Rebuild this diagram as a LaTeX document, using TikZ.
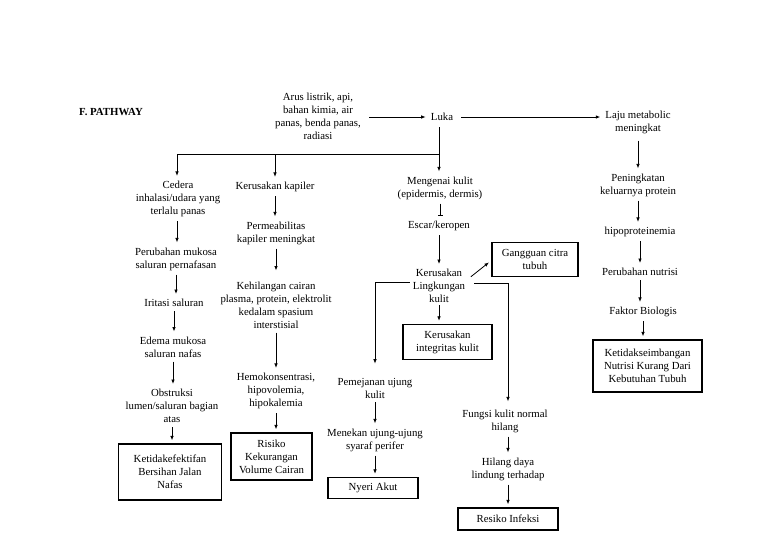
\documentclass[tikz,border=0pt]{standalone}
\usepackage{fontspec}
\setmainfont{Liberation Serif}
\usetikzlibrary{arrows.meta,calc}
\begin{document}
\begin{tikzpicture}[x=1pt,y=-1pt,
  txt/.style={font=\fontsize{10.8}{13}\selectfont, align=center, inner sep=2pt},
  bx/.style={txt, draw, line width=1.4pt, inner sep=0pt},
  ln/.style={line width=0.8pt},
  arr/.style={ln, -{Latex[length=4.5pt,width=3.6pt]}, shorten <=2pt, shorten >=3pt},
  tbar/.style={ln, -{Bar[width=5pt]}, shorten <=2pt, shorten >=3pt}
]
\useasboundingbox (0,0) rectangle (768,544);
\fill[white] (0,0) rectangle (768,544);

% title
\node[txt, font=\fontsize{10.8}{13}\selectfont\bfseries] (title) at (111,112) {F. PATHWAY};

% top row
\node[txt] (arus) at (318,116) {Arus listrik, api,\\bahan kimia, air\\panas, benda panas,\\radiasi};
\node[txt] (luka) at (442,117) {Luka};
\node[txt] (laju) at (638,122) {Laju metabolic\\meningkat};

% right column
\node[txt] (pening) at (638,185) {Peningkatan\\keluarnya protein};
\node[txt] (hipo) at (640,232) {hipoproteinemia};
\node[txt] (perubn) at (640,272) {Perubahan nutrisi};
\node[txt] (faktor) at (643,312) {Faktor Biologis};
\node[bx, minimum width=109pt, minimum height=52pt] (b7) at (647.5,366) {Ketidakseimbangan\\Nutrisi Kurang Dari\\Kebutuhan Tubuh};

% left column
\node[txt] (cedera) at (178,199) {Cedera\\inhalasi/udara yang\\terlalu panas};
\node[txt] (perub) at (176,259) {Perubahan mukosa\\saluran pernafasan};
\node[txt] (iritasi) at (174,303) {Iritasi saluran};
\node[txt] (edema) at (173,347) {Edema mukosa\\saluran nafas};
\node[txt] (obstr) at (172,406) {Obstruksi\\lumen/saluran bagian\\atas};
\node[bx, minimum width=103pt, minimum height=56pt] (b1) at (170,472) {Ketidakefektifan\\Bersihan Jalan\\Nafas};

% second column
\node[txt] (kap) at (275,187) {Kerusakan kapiler};
\node[txt] (perm) at (276,233) {Permeabilitas\\kapiler meningkat};
\node[txt] (kehil) at (276,305) {Kehilangan cairan\\plasma, protein, elektrolit\\kedalam spasium\\interstisial};
\node[txt] (hemo) at (276,391) {Hemokonsentrasi,\\hipovolemia,\\hipokalemia};
\node[bx, minimum width=81pt, minimum height=47pt] (b2) at (271.5,456.5) {Risiko\\Kekurangan\\Volume Cairan};

% third column
\node[txt] (meng) at (440,188) {Mengenai kulit\\(epidermis, dermis)};
\node[txt] (escar) at (439,226) {Escar/keropen};
\node[txt] (kerus) at (439,286) {Kerusakan\\Lingkungan\\kulit};
\node[bx, minimum width=89pt, minimum height=35pt] (b4) at (447.5,342) {Kerusakan\\integritas kulit};
\node[bx, minimum width=86pt, minimum height=34pt] (b5) at (535,259.5) {Gangguan citra\\tubuh};

\node[txt] (pemej) at (375,388) {Pemejanan ujung\\kulit};
\node[txt] (menek) at (375,440) {Menekan ujung-ujung\\syaraf perifer};
\node[bx, minimum width=90pt, minimum height=21pt] (b3) at (373,488) {Nyeri Akut};

\node[txt] (fungsi) at (505,421) {Fungsi kulit normal\\hilang};
\node[txt] (hilang) at (508,469) {Hilang daya\\lindung terhadap};
\node[bx, minimum width=100pt, minimum height=22pt] (b6) at (508,519) {Resiko Infeksi};

% junction coordinates
\coordinate (j) at (439,154);
\coordinate (jl) at (177,154);
\coordinate (jm) at (275,154);

% connectors
\draw[arr, shorten <=6pt] (arus.east |- luka) -- (luka);
\draw[arr, shorten <=6pt] (luka) -- (laju.west |- luka);
\draw[ln, shorten <=4pt] (luka.south -| j) -- (j) -- (jl);
\draw[arr, shorten <=0pt] (j) -- (meng.north -| j);
\draw[arr, shorten <=0pt] (jl) -- (jl |- cedera.north);
\draw[arr, shorten <=0pt] (jm) -- (jm |- kap.north);

% left column
\draw[arr] (cedera.south -| jl) -- (jl |- perub.north);
\draw[arr] (perub.south) -- (perub.south |- iritasi.north);
\draw[arr] (iritasi.south) -- (iritasi.south |- edema.north);
\draw[arr] (edema.south) -- (edema.south |- obstr.north);
\draw[arr] (obstr.south) -- (obstr.south |- b1.north);

% second column
\draw[arr] (kap.south) -- (kap.south |- perm.north);
\draw[arr, shorten >=9pt] (perm.south) -- (perm.south |- kehil.north);
\draw[arr] (kehil.south) -- (kehil.south |- hemo.north);
\draw[arr] (hemo.south) -- (hemo.south |- b2.north);

% third column
\draw[tbar] (meng.south) -- (meng.south |- escar.north);
\draw[arr] (escar.south) -- (escar.south |- kerus.north);
\draw[arr, shorten <=0pt] (kerus.south) -- (kerus.south |- b4.north);
\draw[arr] ([xshift=2pt,yshift=-11pt]kerus.north east) -- ([yshift=-1pt]b5.west);
\draw[arr, shorten <=1pt, shorten >=12pt] ([yshift=4pt]kerus.west) -| (pemej.north);
\draw[arr, shorten <=7pt, shorten >=6pt] ([yshift=3pt]kerus.east) -| ([xshift=3pt]fungsi.north);

\draw[arr] (pemej.south) -- (pemej.south |- menek.north);
\draw[arr] (menek.south) -- (menek.south |- b3.north);
\draw[arr] ([xshift=3pt]fungsi.south) -- ([xshift=3pt]fungsi.south |- hilang.north);
\draw[arr] (hilang.south) -- (hilang.south |- b6.north);

% right column
\draw[arr, shorten <=5pt] (laju.south) -- (laju.south |- pening.north);
\draw[arr] (pening.south) -- (pening.south |- hipo.north);
\draw[arr] (hipo.south) -- (hipo.south |- perubn.north);
\draw[arr] (perubn.south) -- (perubn.south |- faktor.north);
\draw[arr] (faktor.south) -- (faktor.south |- b7.north);
\end{tikzpicture}
\end{document}
